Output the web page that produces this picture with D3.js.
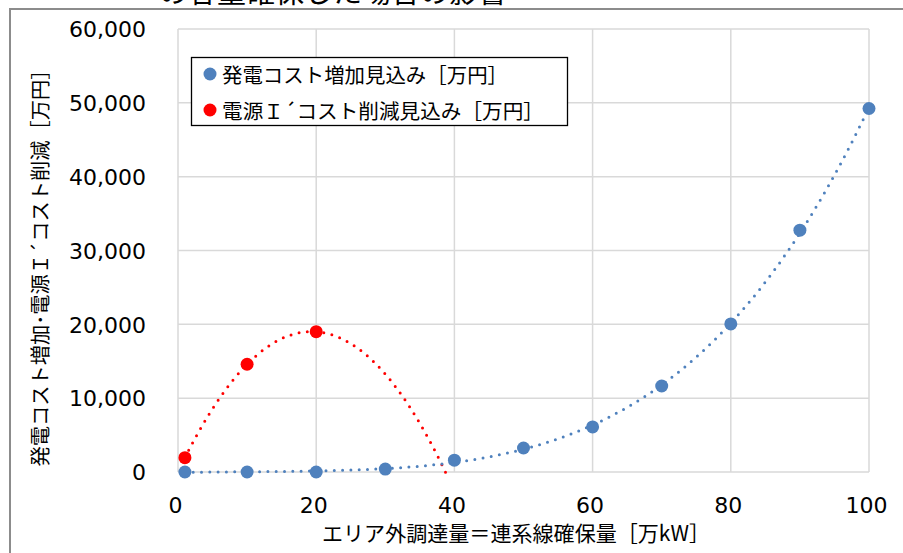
<!DOCTYPE html>
<html>
<head>
<meta charset="utf-8">
<script src="https://cdn.jsdelivr.net/npm/d3@7"></script>
<style>
  body { margin: 0; background: #fff; }
  svg { display: block; }
  text { fill: #000; }
</style>
</head>
<body>
<svg id="chart" width="903" height="553"></svg>
<script>
// data
const xTicks = [0, 20, 40, 60, 80, 100];
const yTicks = [0, 10000, 20000, 30000, 40000, 50000, 60000];
const costUpX = [1, 10, 20, 30, 40, 50, 60, 70, 80, 90, 100];
const costUpY = [0, 0, 0, 400, 1600, 3250, 6100, 11650, 20050, 32750, 49230];
const cutX = [1, 10, 20];
const cutY = [1940, 14590, 19000];
const seriesNames = ["発電コスト増加見込み［万円］", "電源Ｉ´コスト削減見込み［万円］"];
const blue = "#4f81bd", red = "#ff0000";

// least squares polynomial, like the excel trendline
function polyfit(xs, ys, order) {
  const n = order + 1;
  const A = [], b = [];
  for (let i = 0; i < n; i++) {
    A.push(new Array(n).fill(0));
    b.push(0);
  }
  xs.forEach((x0, k) => {
    const xv = x0 / 100;
    for (let i = 0; i < n; i++) {
      for (let j = 0; j < n; j++) A[i][j] += Math.pow(xv, i + j);
      b[i] += ys[k] * Math.pow(xv, i);
    }
  });
  // gaussian elimination
  for (let i = 0; i < n; i++) {
    let p = i;
    for (let r = i + 1; r < n; r++) if (Math.abs(A[r][i]) > Math.abs(A[p][i])) p = r;
    [A[i], A[p]] = [A[p], A[i]];
    [b[i], b[p]] = [b[p], b[i]];
    for (let r = i + 1; r < n; r++) {
      const f = A[r][i] / A[i][i];
      for (let c = i; c < n; c++) A[r][c] -= f * A[i][c];
      b[r] -= f * b[i];
    }
  }
  const coef = new Array(n).fill(0);
  for (let i = n - 1; i >= 0; i--) {
    let s = b[i];
    for (let c = i + 1; c < n; c++) s -= A[i][c] * coef[c];
    coef[i] = s / A[i][i];
  }
  return v => coef.reduce((s, c, i) => s + c * Math.pow(v / 100, i), 0);
}

const svg = d3.select("#chart");
const plotL = 178, plotR = 869, plotT = 29, plotB = 472;
const x = d3.scaleLinear().domain([0, 100]).range([plotL, plotR]);
const y = d3.scaleLinear().domain([0, 60000]).range([plotB, plotT]);

// outer frame
svg.append("line").attr("x1", 9).attr("x2", 903).attr("y1", 9).attr("y2", 9)
  .attr("stroke", "#8c8c8c").attr("stroke-width", 2);
svg.append("line").attr("x1", 10).attr("x2", 10).attr("y1", 8).attr("y2", 553)
  .attr("stroke", "#8c8c8c").attr("stroke-width", 2);

// title (cut off at the top in the original too)
svg.append("text").attr("x", 333).attr("y", 3).attr("text-anchor", "middle")
  .style("font-family", "'Noto Sans CJK JP'").style("font-size", "29px")
  .text("の容量確保した場合の影響");

// grid
svg.append("g").selectAll("line").data(yTicks).join("line")
  .attr("x1", plotL).attr("x2", plotR).attr("y1", d => y(d)).attr("y2", d => y(d))
  .attr("stroke", "#d9d9d9").attr("stroke-width", 1.5);
svg.append("g").selectAll("line").data(xTicks).join("line")
  .attr("y1", plotT).attr("y2", plotB).attr("x1", d => x(d)).attr("x2", d => x(d))
  .attr("stroke", "#d9d9d9").attr("stroke-width", 1.5);

// axes labels
const yAxis = svg.append("g").attr("transform", "translate(" + (plotL - 32) + ",0)")
  .call(d3.axisLeft(y).tickValues(yTicks).tickFormat(d3.format(",")).tickSize(0).tickPadding(0));
const xAxis = svg.append("g").attr("transform", "translate(-3,513)")
  .call(d3.axisBottom(x).tickValues(xTicks).tickSize(0).tickPadding(0));
[yAxis, xAxis].forEach(g => {
  g.select(".domain").remove();
  g.selectAll("text").style("font-family", "'DejaVu Sans'").style("font-size", "22px").attr("fill", "#000");
});
yAxis.selectAll("text").attr("dy", "0.35em");
xAxis.selectAll("text").attr("dy", "0");

svg.append("text").attr("x", 516).attr("y", 541).attr("text-anchor", "middle")
  .attr("textLength", 388).attr("lengthAdjust", "spacingAndGlyphs")
  .style("font-family", "'Noto Sans CJK JP'").style("font-size", "21px")
  .text("エリア外調達量＝連系線確保量［万kW］");
svg.append("text").attr("transform", "translate(39,263) rotate(-90)")
  .attr("text-anchor", "middle").attr("dominant-baseline", "central")
  .attr("textLength", 407).attr("lengthAdjust", "spacingAndGlyphs")
  .style("font-family", "'Noto Sans CJK JP'").style("font-size", "20px")
  .text("発電コスト増加･電源Ｉ´コスト削減［万円］");

// trendlines
const line = d3.line().x(d => x(d[0])).y(d => y(d[1]));
const blueFit = polyfit(costUpX, costUpY, 4);
const redFit = polyfit(cutX, cutY, 2);
const blueLine = d3.range(1, 100.01, 0.5).map(v => [v, blueFit(v)]);
const redLine = d3.range(1, 39.01, 0.25).map(v => [v, redFit(v)]);
[[redLine, red], [blueLine, blue]].forEach(([pts, c]) => {
  svg.append("path").attr("d", line(pts)).attr("fill", "none")
    .attr("stroke", c).attr("stroke-width", 3)
    .attr("stroke-linecap", "round").attr("stroke-dasharray", "0 8.3");
});

// markers
svg.append("g").selectAll("circle").data(cutX).join("circle")
  .attr("cx", d => x(d)).attr("cy", (d, i) => y(cutY[i])).attr("r", 6.5).attr("fill", red);
svg.append("g").selectAll("circle").data(costUpX).join("circle")
  .attr("cx", d => x(d)).attr("cy", (d, i) => y(costUpY[i])).attr("r", 6.5).attr("fill", blue);

// legend
const lg = svg.append("g");
lg.append("rect").attr("x", 191.5).attr("y", 57.5).attr("width", 376).attr("height", 68)
  .attr("fill", "#fff").attr("stroke", "#000").attr("stroke-width", 1.3);
const legendLen = [286, 322];
seriesNames.forEach((name, i) => {
  const cy = 74 + i * 36;
  lg.append("circle").attr("cx", 210).attr("cy", cy).attr("r", 6.5).attr("fill", [blue, red][i]);
  lg.append("text").attr("x", 222).attr("y", cy).attr("dominant-baseline", "central")
    .attr("textLength", legendLen[i]).attr("lengthAdjust", "spacingAndGlyphs")
    .style("font-family", "'Noto Sans CJK JP'").style("font-size", "20px").text(name);
});
</script>
</body>
</html>
